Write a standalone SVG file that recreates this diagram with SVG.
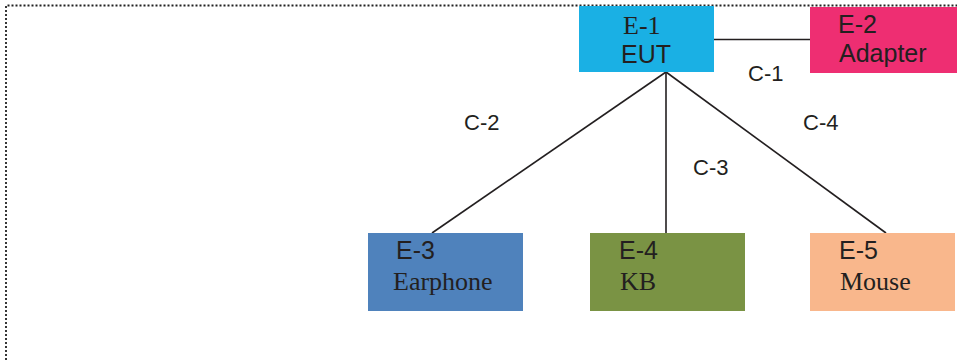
<svg xmlns="http://www.w3.org/2000/svg" width="957" height="360" viewBox="0 0 957 360">
<style>
.sans{font-family:"Liberation Sans",Arial,sans-serif;font-size:25px;fill:#231f20}
.serif{font-family:"Liberation Serif","Times New Roman",serif;font-size:26px;fill:#231f20}
.lbl{font-family:"Liberation Sans",Arial,sans-serif;font-size:22px;fill:#231f20}
.conn{stroke:#231f20;stroke-width:1.6;fill:none}
.border{stroke:#222;stroke-width:1.8;stroke-dasharray:2 2;fill:none}
</style>
<rect width="957" height="360" fill="#fff"/>
<path class="border" d="M6,360 V5.5 H957"/>
<g id="connectors">
<line class="conn" x1="714" y1="39.5" x2="810" y2="39.5"/>
<line class="conn" x1="666" y1="72" x2="432" y2="233"/>
<line class="conn" x1="666" y1="72" x2="666" y2="233"/>
<line class="conn" x1="666" y1="72" x2="886" y2="233"/>
<text class="lbl" x="748" y="81">C-1</text>
<text class="lbl" x="464" y="130">C-2</text>
<text class="lbl" x="693" y="175">C-3</text>
<text class="lbl" x="803" y="130">C-4</text>
</g>
<g id="E-1">
<rect x="579" y="6" width="135" height="66" fill="#1ab0e4"/>
<text class="serif" x="623" y="34">E-1</text>
<text class="sans" x="621" y="63">EUT</text>
</g>
<g id="E-2">
<rect x="810" y="7" width="147" height="66" fill="#ee2e72"/>
<text class="sans" x="838" y="33">E-2</text>
<text class="sans" x="839" y="62">Adapter</text>
</g>
<g id="E-3">
<rect x="368" y="233" width="155" height="78" fill="#4f82bc"/>
<text class="sans" x="396" y="259">E-3</text>
<text class="serif" x="393" y="290">Earphone</text>
</g>
<g id="E-4">
<rect x="590" y="233" width="155" height="78" fill="#7a9344"/>
<text class="sans" x="619" y="259">E-4</text>
<text class="serif" x="620" y="290">KB</text>
</g>
<g id="E-5">
<rect x="810" y="233" width="145" height="78" fill="#f9b78c"/>
<text class="sans" x="839" y="259">E-5</text>
<text class="serif" x="840" y="290">Mouse</text>
</g>
</svg>
